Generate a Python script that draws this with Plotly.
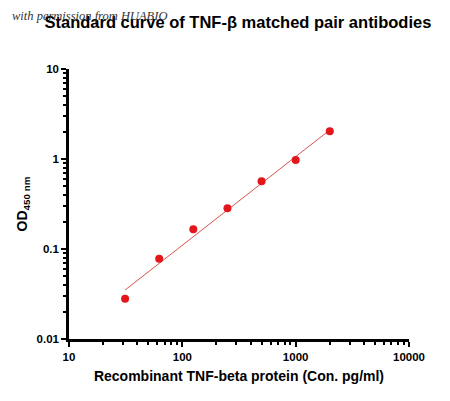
import plotly.graph_objects as go

# standard curve points
conc = [31.25, 62.5, 125, 250, 500, 1000, 2000]
od450 = [0.028, 0.078, 0.166, 0.283, 0.565, 0.975, 2.03]

# fitted line end points
fit_x = [31.25, 2000]
fit_y = [0.035, 2.1]

x_ticks = [10, 100, 1000, 10000]
x_labels = ["10", "100", "1000", "10000"]
y_ticks = [0.01, 0.1, 1, 10]
y_labels = ["0.01", "0.1", "1", "10"]

font = "Liberation Sans"

fig = go.Figure()
fig.add_trace(go.Scatter(
    x=fit_x, y=fit_y, mode="lines",
    line=dict(color="#d9534f", width=1),
    showlegend=False, hoverinfo="skip",
))
fig.add_trace(go.Scatter(
    x=conc, y=od450, mode="markers",
    marker=dict(color="#e3161c", size=8),
    showlegend=False,
))

x_minor = [m * 10 ** k for k in range(1, 4) for m in range(2, 10)]
y_minor = [m * 10.0 ** k for k in range(-2, 1) for m in range(2, 10)]

axis_style = dict(
    showline=True, linecolor="black", linewidth=2.5,
    ticks="outside", ticklen=5, tickwidth=2, tickcolor="black",
    showgrid=False, zeroline=False,
    tickfont=dict(family=font, size=11.5, color="black", weight="bold"),
)

fig.update_xaxes(
    type="log", range=[1, 4],
    tickvals=x_ticks, ticktext=x_labels,
    minor=dict(tickvals=x_minor, ticks="outside", ticklen=3, tickwidth=2, tickcolor="black"),
    title=dict(text="<b>Recombinant TNF-beta protein (Con. pg/ml)</b>",
               font=dict(family=font, size=14, color="black"), standoff=10),
    **axis_style,
)
fig.update_yaxes(
    type="log", range=[-2, 1],
    tickvals=y_ticks, ticktext=y_labels,
    minor=dict(tickvals=y_minor, ticks="outside", ticklen=3, tickwidth=2, tickcolor="black"),
    title=dict(text="<b>OD<sub>450 nm</sub></b>",
               font=dict(family=font, size=14, color="black"), standoff=6),
    **axis_style,
)

# the page puts the figure 8px in from the top-left corner
fig.update_layout(
    width=450, height=401,
    margin=dict(l=61, r=49, t=61, b=70),
    paper_bgcolor="white", plot_bgcolor="white",
    title=dict(text="<b>Standard curve of TNF-β matched pair antibodies</b>",
               font=dict(family=font, size=16.5, color="black"),
               x=0.511, xanchor="center", y=0.965, yanchor="middle"),
    annotations=[dict(
        text="with permission from HUABIO", xref="paper", yref="paper",
        x=-0.1735, y=1.196, xanchor="left", yanchor="middle", showarrow=False,
        font=dict(family="Liberation Serif", size=12.5, color="#333333", style="italic"),
    )],
)

fig.write_html("out.html")
